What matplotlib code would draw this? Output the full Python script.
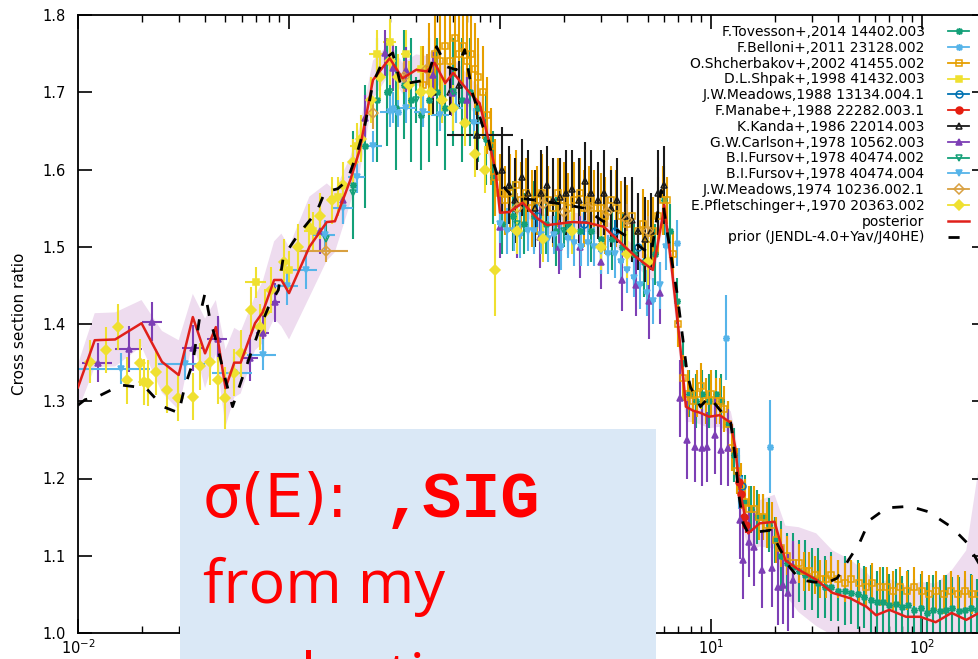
import matplotlib
matplotlib.use("Agg")
import matplotlib.pyplot as plt
from matplotlib.lines import Line2D
from matplotlib.patches import Rectangle
from matplotlib.ticker import FixedLocator, FormatStrFormatter, NullLocator

plt.rcParams.update({
    "font.family": "DejaVu Sans",
    "font.size": 10.5,
    "axes.linewidth": 1.3,
})

# ---- evaluation curves ------------------------------------------------------
post_e = [0.010, 0.012, 0.015, 0.020, 0.025, 0.030, 0.035, 0.040, 0.045, 0.050,
          0.055, 0.059, 0.069, 0.075, 0.085, 0.092, 0.100, 0.125, 0.151, 0.165,
          0.195, 0.216, 0.250, 0.300, 0.345, 0.400, 0.450, 0.490, 0.550, 0.600,
          0.720, 0.800, 0.890, 0.950, 1.00, 1.11, 1.28, 1.50, 1.67, 2.20,
          2.60, 3.10, 3.60, 4.40, 5.30, 5.60, 5.90, 6.00, 6.50, 7.10,
          7.60, 8.20, 8.90, 9.80, 11.0, 12.4, 13.0, 13.7, 15.0, 17.0,
          20.0, 22.5, 26.0, 31.5, 37.6, 45.6, 54.5, 60.5, 70.0, 84.0,
          98.0, 116, 138, 162, 186, 200]
post_y = [1.318, 1.379, 1.380, 1.401, 1.351, 1.334, 1.409, 1.362, 1.396, 1.317,
          1.350, 1.350, 1.401, 1.415, 1.457, 1.457, 1.440, 1.500, 1.532, 1.533,
          1.586, 1.625, 1.716, 1.744, 1.718, 1.729, 1.727, 1.738, 1.712, 1.725,
          1.699, 1.686, 1.634, 1.600, 1.544, 1.545, 1.557, 1.537, 1.528, 1.532,
          1.531, 1.526, 1.509, 1.487, 1.470, 1.505, 1.539, 1.554, 1.474, 1.379,
          1.293, 1.288, 1.285, 1.280, 1.282, 1.272, 1.241, 1.185, 1.129, 1.142,
          1.144, 1.094, 1.082, 1.069, 1.052, 1.045, 1.034, 1.023, 1.030, 1.021,
          1.021, 1.014, 1.026, 1.017, 1.026, 1.022]
post_unc = [0.030, 0.035, 0.035, 0.030, 0.040, 0.045, 0.030, 0.045, 0.035, 0.050,
            0.045, 0.040, 0.035, 0.040, 0.050, 0.060, 0.060, 0.065, 0.050, 0.040,
            0.030, 0.030, 0.025, 0.020, 0.020, 0.020, 0.020, 0.020, 0.020, 0.020,
            0.020, 0.020, 0.020, 0.020, 0.015, 0.012, 0.012, 0.012, 0.012, 0.012,
            0.012, 0.012, 0.012, 0.012, 0.015, 0.015, 0.015, 0.015, 0.020, 0.025,
            0.020, 0.015, 0.015, 0.015, 0.015, 0.015, 0.020, 0.025, 0.025, 0.030,
            0.035, 0.045, 0.055, 0.060, 0.055, 0.050, 0.045, 0.040, 0.040, 0.040,
            0.045, 0.050, 0.055, 0.090, 0.190, 0.250]

prior_e = [0.0100, 0.0108, 0.0124, 0.0160, 0.0210, 0.0253, 0.0300, 0.0320, 0.0350, 0.0380,
           0.0400, 0.0420, 0.0450, 0.0500, 0.0540, 0.0590, 0.0660, 0.0730, 0.0800, 0.0890,
           0.0940, 0.110, 0.135, 0.148, 0.170, 0.189, 0.210, 0.228, 0.250, 0.280,
           0.310, 0.340, 0.370, 0.450, 0.500, 0.560, 0.620, 0.680, 0.740, 0.830,
           0.870, 0.930, 1.00, 1.15, 1.50, 2.00, 2.50, 3.00, 4.00, 4.60,
           5.20, 5.80, 6.10, 6.90, 7.70, 8.00, 8.90, 9.80, 11.0, 12.4,
           13.0, 13.5, 14.2, 15.0, 16.7, 19.1, 21.0, 23.6, 26.4, 30.6,
           35.4, 39.6, 44.0, 50.6, 56.4, 68.0, 87.5, 107, 138, 163,
           186, 200]
prior_y = [1.295, 1.302, 1.306, 1.321, 1.317, 1.293, 1.285, 1.318, 1.350, 1.414,
           1.440, 1.409, 1.379, 1.328, 1.293, 1.324, 1.362, 1.396, 1.422, 1.444,
           1.487, 1.515, 1.545, 1.571, 1.575, 1.586, 1.621, 1.655, 1.712, 1.742,
           1.751, 1.707, 1.712, 1.716, 1.759, 1.733, 1.729, 1.755, 1.699, 1.655,
           1.647, 1.608, 1.583, 1.564, 1.560, 1.555, 1.550, 1.535, 1.513, 1.500,
           1.490, 1.573, 1.531, 1.440, 1.337, 1.318, 1.293, 1.306, 1.289, 1.272,
           1.228, 1.181, 1.142, 1.129, 1.131, 1.133, 1.111, 1.085, 1.069, 1.066,
           1.065, 1.071, 1.091, 1.117, 1.146, 1.162, 1.164, 1.157, 1.137, 1.117,
           1.090, 1.075]

# ---- experimental data (EXFOR) ----------------------------------------------
tov_e = [0.20, 0.23, 0.26, 0.29, 0.32, 0.35, 0.38, 0.42, 0.46, 0.50, 0.55, 0.60, 0.66, 0.72, 0.79, 0.86, 0.93,
         1.02, 1.15, 1.30, 1.45, 1.65, 1.85, 2.10, 2.40, 2.70, 3.00, 3.40, 3.80, 4.30, 4.80, 5.40, 6.00,
         6.40, 6.90, 7.40, 7.90, 8.50, 9.10, 9.80, 10.5, 11.2, 12.0, 12.8, 13.6, 14.5, 15.5, 16.5, 17.6, 18.8, 20.0,
         21.5, 23.0, 24.5, 26.0, 28.0, 30.0, 32.0, 34.5, 37.0, 40.0, 43.0, 46.0, 49.5, 53.0, 57.0, 61.0, 65.5,
         70.0, 75.0, 80.5, 86.0, 92.0, 99.0, 106, 113, 121, 130, 139, 149, 160, 171, 183, 195]
tov_y = [1.58, 1.63, 1.69, 1.70, 1.68, 1.71, 1.69, 1.67, 1.69, 1.70, 1.68, 1.70, 1.69, 1.70, 1.68, 1.64, 1.59,
         1.53, 1.54, 1.53, 1.54, 1.53, 1.52, 1.53, 1.52, 1.52, 1.51, 1.51, 1.50, 1.49, 1.48, 1.49, 1.56,
         1.52, 1.43, 1.35, 1.31, 1.30, 1.31, 1.30, 1.31, 1.30, 1.27, 1.23, 1.20, 1.17, 1.16, 1.15, 1.15, 1.14, 1.12,
         1.10, 1.09, 1.085, 1.08, 1.075, 1.07, 1.065, 1.06, 1.06, 1.055, 1.055, 1.052, 1.05, 1.047, 1.043, 1.04, 1.04,
         1.036, 1.038, 1.034, 1.036, 1.03, 1.032, 1.026, 1.03, 1.028, 1.03, 1.032, 1.028, 1.03, 1.032, 1.03, 1.032]
tov_dy = [0.07, 0.08, 0.08, 0.07, 0.08, 0.07, 0.08, 0.07, 0.08, 0.07, 0.08, 0.07, 0.08, 0.07, 0.07, 0.06, 0.06,
          0.04, 0.045, 0.04, 0.045, 0.04, 0.045, 0.04, 0.045, 0.04, 0.045, 0.04, 0.045, 0.04, 0.045, 0.04, 0.045,
          0.035, 0.03, 0.035, 0.03, 0.035, 0.03, 0.035, 0.03, 0.035, 0.03, 0.035, 0.03, 0.035, 0.03, 0.035, 0.03, 0.035, 0.03,
          0.045, 0.04, 0.045, 0.04, 0.045, 0.04, 0.045, 0.04, 0.045, 0.04, 0.045, 0.04, 0.045, 0.04, 0.045, 0.04, 0.045,
          0.04, 0.045, 0.04, 0.045, 0.04, 0.045, 0.04, 0.045, 0.04, 0.045, 0.04, 0.045, 0.04, 0.045, 0.04, 0.045]

bel_e = [0.31, 0.33, 6.9, 11.8, 13.5, 19.1]
bel_y = [1.68, 1.675, 1.505, 1.382, 1.20, 1.241]
bel_dy = [0.02, 0.02, 0.03, 0.055, 0.04, 0.06]

shch_e = [0.43, 0.46, 0.49, 0.52, 0.55, 0.58, 0.61, 0.64, 0.67, 0.70, 0.73, 0.76, 0.79, 0.83, 0.87, 0.91, 0.95,
          1.00, 1.06, 1.12, 1.19, 1.26, 1.33, 1.41, 1.50, 1.58, 1.68, 1.78, 1.88, 2.00, 2.10, 2.25, 2.40,
          2.50, 2.65, 2.80, 3.00, 3.15, 3.35, 3.55, 3.75, 4.00, 4.20, 4.50, 4.75, 5.00, 5.30, 5.60, 5.90,
          6.20, 6.60, 7.00, 7.40, 7.80, 8.20, 8.60, 9.00, 9.50, 10.0, 10.5, 11.0, 11.5, 12.0, 12.6, 13.2,
          13.8, 14.5, 15.2, 16.0, 16.8, 17.6, 18.5, 19.4, 20.4,
          21.5, 23.0, 24.5, 26.0, 27.5, 29.0, 31.0, 33.0, 35.0, 37.0, 40.0, 43.0, 46.0, 50.0, 54.0, 58.0,
          63.0, 68.0, 73.0, 79.0, 85.0, 92.0, 100, 108, 117, 127, 137, 148, 160, 173, 187]
shch_y = [1.71, 1.73, 1.75, 1.74, 1.76, 1.74, 1.77, 1.75, 1.76, 1.74, 1.75, 1.73, 1.72, 1.70, 1.67, 1.63, 1.59,
          1.57, 1.56, 1.57, 1.58, 1.56, 1.57, 1.55, 1.56, 1.57, 1.56, 1.55, 1.57, 1.56, 1.55, 1.56, 1.57,
          1.55, 1.56, 1.55, 1.55, 1.54, 1.56, 1.55, 1.54, 1.53, 1.54, 1.52, 1.53, 1.51, 1.52, 1.54, 1.56,
          1.56, 1.49, 1.40, 1.33, 1.31, 1.30, 1.31, 1.32, 1.30, 1.31, 1.30, 1.30, 1.29, 1.27, 1.24, 1.21,
          1.19, 1.17, 1.16, 1.16, 1.15, 1.15, 1.14, 1.14, 1.12,
          1.11, 1.10, 1.09, 1.09, 1.08, 1.08, 1.075, 1.07, 1.07, 1.075, 1.07, 1.065, 1.07, 1.065, 1.06, 1.065,
          1.06, 1.06, 1.055, 1.06, 1.055, 1.06, 1.055, 1.05, 1.055, 1.05, 1.055, 1.05, 1.055, 1.05, 1.05]
shch_dy = [0.05, 0.06, 0.05, 0.06, 0.05, 0.06, 0.05, 0.06, 0.05, 0.06, 0.05, 0.06, 0.05, 0.06, 0.05, 0.05, 0.05,
           0.05, 0.045, 0.05, 0.045, 0.05, 0.045, 0.05, 0.045, 0.05, 0.045, 0.05, 0.045, 0.05, 0.045, 0.05, 0.045,
           0.05, 0.045, 0.05, 0.045, 0.05, 0.045, 0.05, 0.045, 0.05, 0.045, 0.05, 0.045, 0.05, 0.045, 0.05, 0.045,
           0.03, 0.03, 0.03, 0.03, 0.03, 0.03, 0.03, 0.03, 0.03, 0.03, 0.03, 0.03, 0.03, 0.03, 0.03, 0.03,
           0.03, 0.03, 0.03, 0.03, 0.03, 0.03, 0.03, 0.03, 0.03,
           0.025, 0.025, 0.025, 0.025, 0.025, 0.025, 0.025, 0.025, 0.025, 0.025, 0.025, 0.025, 0.025, 0.025, 0.025, 0.025,
           0.025, 0.025, 0.025, 0.025, 0.025, 0.025, 0.025, 0.025, 0.025, 0.025, 0.025, 0.025, 0.025, 0.025, 0.025]

shp_e = [0.07, 0.10, 0.13, 0.17, 0.21, 0.26, 0.30, 0.36, 0.42]
shp_y = [1.454, 1.47, 1.52, 1.565, 1.63, 1.75, 1.765, 1.75, 1.73]
shp_dy = [0.02, 0.025, 0.025, 0.025, 0.03, 0.03, 0.03, 0.03, 0.03]
shp_dx = [0.008, 0.01, 0.012, 0.015, 0.015, 0.02, 0.02, 0.02, 0.02]

m88_e = [1.5, 2.5, 3.5, 4.5, 14.0]
m88_y = [1.54, 1.53, 1.52, 1.50, 1.19]
m88_dy = [0.015, 0.015, 0.015, 0.015, 0.015]

man_e = [13.6, 13.9, 14.3, 14.6]
man_y = [1.195, 1.18, 1.15, 1.14]
man_dy = [0.01, 0.01, 0.01, 0.01]

kanda_e = [0.48, 0.53, 0.58, 0.64, 0.78, 1.02, 1.10, 1.18, 1.27, 1.36, 1.46, 1.56, 1.67, 1.79, 1.92,
           2.06, 2.20, 2.36, 2.53, 2.70, 2.90, 3.10, 3.35, 3.60, 3.90, 4.20, 4.50, 4.85, 5.20, 5.60, 6.00]
kanda_y = [1.70, 1.69, 1.70, 1.71, 1.645, 1.60, 1.58, 1.56, 1.59, 1.57, 1.55, 1.57, 1.58, 1.56, 1.565,
           1.57, 1.575, 1.56, 1.585, 1.57, 1.56, 1.57, 1.55, 1.56, 1.54, 1.535, 1.52, 1.51, 1.52, 1.57, 1.58]
kanda_dy = [0.03, 0.03, 0.03, 0.03, 0.045, 0.055, 0.05, 0.055, 0.05, 0.055, 0.05, 0.055, 0.05, 0.055, 0.05,
            0.055, 0.05, 0.055, 0.05, 0.055, 0.05, 0.055, 0.05, 0.055, 0.05, 0.055, 0.05, 0.055, 0.05, 0.055, 0.05]
kanda_dx_lo = [0, 0, 0, 0, 0.22, 0, 0, 0, 0, 0, 0, 0, 0, 0, 0,
               0, 0, 0, 0, 0, 0, 0, 0, 0, 0, 0, 0, 0, 0, 0, 0]
kanda_dx_hi = [0, 0, 0, 0, 0.37, 0, 0, 0, 0, 0, 0, 0, 0, 0, 0,
               0, 0, 0, 0, 0, 0, 0, 0, 0, 0, 0, 0, 0, 0, 0, 0]

carl_e = [0.0125, 0.0175, 0.0225, 0.035, 0.046, 0.065, 0.075, 0.086, 0.14, 0.18, 0.23, 0.285, 0.31, 0.36, 0.48, 0.59, 0.70,
          1.00, 1.20, 1.54, 1.90, 2.40, 3.00, 3.80, 4.40, 5.10, 5.70,
          7.10, 7.70, 8.40, 9.10, 9.60, 10.4, 11.2, 12.0, 13.7, 14.2, 15.2, 16.0, 17.4, 19.4, 20.8, 22.0, 23.2, 24.5]
carl_y = [1.350, 1.368, 1.403, 1.369, 1.380, 1.356, 1.388, 1.428, 1.52, 1.56, 1.667, 1.751, 1.731, 1.729, 1.722, 1.699, 1.69,
          1.526, 1.52, 1.513, 1.50, 1.50, 1.48, 1.457, 1.45, 1.43, 1.44,
          1.304, 1.25, 1.241, 1.24, 1.241, 1.256, 1.237, 1.24, 1.146, 1.094, 1.118, 1.111, 1.082, 1.084, 1.06, 1.062, 1.052, 1.069]
carl_dy = [0.025, 0.03, 0.025, 0.03, 0.03, 0.03, 0.025, 0.025, 0.03, 0.03, 0.03, 0.03, 0.03, 0.03, 0.03, 0.03, 0.03,
           0.04, 0.035, 0.04, 0.035, 0.04, 0.035, 0.04, 0.04, 0.05, 0.04,
           0.05, 0.05, 0.045, 0.05, 0.045, 0.05, 0.045, 0.05, 0.05, 0.05, 0.045, 0.05, 0.05, 0.05, 0.05, 0.05, 0.05, 0.05]
carl_dx = [0.002, 0.0025, 0.0025, 0.004, 0.005, 0.006, 0.005, 0.005, 0, 0, 0, 0, 0, 0, 0, 0, 0,
           0, 0, 0, 0, 0, 0, 0, 0, 0, 0,
           0, 0, 0, 0, 0, 0, 0, 0, 0, 0, 0, 0, 0, 0, 0, 0, 0, 0]

f2_e = [0.15, 0.20, 0.30, 0.40, 0.60, 1.2, 2.0, 3.0]
f2_y = [1.51, 1.57, 1.70, 1.69, 1.70, 1.53, 1.52, 1.50]
f2_dy = [0.02, 0.02, 0.03, 0.03, 0.03, 0.02, 0.02, 0.02]

f4_e = [0.016, 0.032, 0.055, 0.075, 0.098, 0.12, 0.148, 0.18, 0.21, 0.25, 0.30, 0.36, 0.43, 0.52, 0.62, 0.75,
        1.00, 1.08, 1.16, 1.25, 1.35, 1.45, 1.56, 1.68, 1.80, 1.95, 2.10, 2.25, 2.42,
        2.60, 2.80, 3.00, 3.25, 3.50, 3.75, 4.00, 4.30, 4.60, 4.95, 5.30, 5.70, 6.10]
f4_y = [1.342, 1.348, 1.337, 1.360, 1.449, 1.47, 1.515, 1.55, 1.59, 1.63, 1.675, 1.68, 1.675, 1.67, 1.68, 1.66,
        1.53, 1.52, 1.52, 1.515, 1.52, 1.52, 1.515, 1.51, 1.515, 1.50, 1.51, 1.505, 1.50,
        1.505, 1.50, 1.495, 1.49, 1.49, 1.48, 1.47, 1.46, 1.45, 1.44, 1.43, 1.45, 1.50]
f4_dy = [0.02, 0.02, 0.02, 0.02, 0.025, 0.025, 0.02, 0.02, 0.02, 0.02, 0.02, 0.02, 0.02, 0.02, 0.02, 0.02,
         0.025, 0.03, 0.025, 0.03, 0.025, 0.03, 0.025, 0.03, 0.025, 0.03, 0.025, 0.03, 0.025,
         0.03, 0.025, 0.03, 0.025, 0.03, 0.025, 0.03, 0.025, 0.03, 0.03, 0.03, 0.03, 0.03]
f4_dx = [0.006, 0.008, 0.012, 0.012, 0.012, 0.015, 0.018, 0.02, 0.02, 0.025, 0.03, 0.04, 0.04, 0.05, 0.05, 0.06,
         0.03, 0.03, 0.035, 0.04, 0.04, 0.045, 0.05, 0.05, 0.055, 0.06, 0.065, 0.07, 0.07,
         0.08, 0.085, 0.09, 0.1, 0.1, 0.11, 0.12, 0.13, 0.14, 0.15, 0.16, 0.17, 0.18]

m74_e = [0.15, 0.25, 0.35, 0.45, 1.2, 1.6, 2.0, 2.6, 3.2, 4.0, 5.0]
m74_y = [1.495, 1.673, 1.72, 1.73, 1.55, 1.555, 1.545, 1.55, 1.545, 1.535, 1.52]
m74_dy = [0.015, 0.02, 0.02, 0.02, 0.02, 0.02, 0.02, 0.02, 0.02, 0.02, 0.02]
m74_dx = [0.04, 0, 0, 0, 0, 0, 0, 0, 0, 0, 0]

pf_e = [0.0114, 0.0136, 0.0155, 0.017, 0.0197, 0.0205, 0.0214, 0.0235, 0.0264, 0.0298, 0.035,
        0.038, 0.042, 0.046, 0.050, 0.055, 0.059, 0.066, 0.073, 0.077, 0.082,
        0.095, 0.11, 0.125, 0.14, 0.16, 0.18, 0.20, 0.22, 0.245, 0.27, 0.30,
        0.33, 0.37, 0.42, 0.47, 0.53, 0.60, 0.68, 0.76, 0.85, 0.95,
        1.2, 1.6, 2.2, 3.0, 4.0, 5.0]
pf_y = [1.351, 1.366, 1.396, 1.327, 1.350, 1.325, 1.324, 1.338, 1.315, 1.304, 1.306,
        1.345, 1.351, 1.327, 1.304, 1.337, 1.362, 1.418, 1.396, 1.415, 1.444,
        1.48, 1.50, 1.525, 1.54, 1.56, 1.58, 1.61, 1.64, 1.69, 1.72, 1.74,
        1.72, 1.71, 1.70, 1.70, 1.69, 1.68, 1.66, 1.62, 1.60, 1.47,
        1.52, 1.51, 1.52, 1.50, 1.49, 1.48]
pf_dy = [0.028, 0.03, 0.03, 0.03, 0.03, 0.03, 0.03, 0.03, 0.03, 0.03, 0.03,
         0.03, 0.03, 0.03, 0.04, 0.03, 0.03, 0.03, 0.03, 0.03, 0.03,
         0.03, 0.03, 0.03, 0.03, 0.03, 0.03, 0.03, 0.03, 0.03, 0.03, 0.03,
         0.03, 0.03, 0.03, 0.03, 0.03, 0.03, 0.03, 0.03, 0.03, 0.06,
         0.03, 0.03, 0.03, 0.03, 0.03, 0.03]

GREEN, LBLUE, ORANGE, YELLOW = "#13a078", "#56b4e9", "#e69f00", "#efe030"
BLUE, RED, BLACK, PURPLE = "#0072b2", "#e51e10", "#1a1a1a", "#7d3fb5"
ASTER = (8, 2, 0)

series = [
    ("F.Tovesson+,2014 14402.003", tov_e, tov_y, tov_dy, None, GREEN, ASTER, True),
    ("F.Belloni+,2011 23128.002", bel_e, bel_y, bel_dy, None, LBLUE, ASTER, True),
    ("O.Shcherbakov+,2002 41455.002", shch_e, shch_y, shch_dy, None, ORANGE, "s", False),
    ("D.L.Shpak+,1998 41432.003", shp_e, shp_y, shp_dy, shp_dx, YELLOW, "s", True),
    ("J.W.Meadows,1988 13134.004.1", m88_e, m88_y, m88_dy, None, BLUE, "o", False),
    ("F.Manabe+,1988 22282.003.1", man_e, man_y, man_dy, None, RED, "o", True),
    ("K.Kanda+,1986 22014.003", kanda_e, kanda_y, kanda_dy, [kanda_dx_lo, kanda_dx_hi], BLACK, "^", False),
    ("G.W.Carlson+,1978 10562.003", carl_e, carl_y, carl_dy, carl_dx, PURPLE, "^", True),
    ("B.I.Fursov+,1978 40474.002", f2_e, f2_y, f2_dy, None, GREEN, "v", False),
    ("B.I.Fursov+,1978 40474.004", f4_e, f4_y, f4_dy, f4_dx, LBLUE, "v", True),
    ("J.W.Meadows,1974 10236.002.1", m74_e, m74_y, m74_dy, m74_dx, "#d9a040", "D", False),
    ("E.Pfletschinger+,1970 20363.002", pf_e, pf_y, pf_dy, None, YELLOW, "D", True),
]

fig = plt.figure(figsize=(9.79, 6.59), dpi=100)
ax = fig.add_axes([78 / 979, 26 / 659, 907.6 / 979, 618 / 659])

lo = [y - u for y, u in zip(post_y, post_unc)]
hi = [y + u for y, u in zip(post_y, post_unc)]
ax.fill_between(post_e, lo, hi, color="#eedcef", lw=0, zorder=1)

handles, labels = [], []
for label, e, y, dy, dx, color, marker, filled in series:
    face = color if filled else "none"
    ax.errorbar(e, y, yerr=dy, xerr=dx, marker=marker, ls="none", color=color,
                ms=5, mfc=face, mec=color, mew=1.1, elinewidth=1.5, capsize=0, zorder=2)
    handles.append(Line2D([], [], color=color, marker=marker, mfc=face, mec=color,
                          ms=5, mew=1.1, lw=1.3))
    labels.append(label)

ax.plot(post_e, post_y, color="#e0201a", lw=1.8, zorder=5)
ax.plot(prior_e, prior_y, color="black", lw=2.0, dashes=(4, 5), zorder=6)
handles.append(Line2D([], [], color="#e0201a", lw=1.8))
labels.append("posterior")
handles.append(Line2D([], [], color="black", lw=2.0, dashes=(4, 5)))
labels.append("prior (JENDL-4.0+Yav/J40HE)")

ax.set_xscale("log")
ax.set_xlim(0.01, 200)
ax.set_ylim(1.0, 1.8)
ax.yaxis.set_major_locator(FixedLocator([1.0, 1.1, 1.2, 1.3, 1.4, 1.5, 1.6, 1.7, 1.8]))
ax.yaxis.set_major_formatter(FormatStrFormatter("%.1f"))
ax.yaxis.set_minor_locator(NullLocator())
ax.tick_params(which="both", direction="in", top=True, right=True)
ax.tick_params(which="major", length=10, width=1.2)
ax.tick_params(which="minor", length=5, width=1.0)
ax.tick_params(axis="y", pad=9)
ax.tick_params(axis="x", pad=4)
ax.set_ylabel("Cross section ratio", fontsize=11)
ax.yaxis.set_label_coords(-0.056, 0.5)

leg = ax.legend(handles, labels, loc="upper right",
                bbox_to_anchor=(969 / 979, 1 - 25 / 659), bbox_transform=fig.transFigure,
                frameon=False, markerfirst=False, fontsize=10, handlelength=1.5,
                handletextpad=1.7, labelspacing=0.13, borderpad=0, borderaxespad=0)
leg.set_zorder(8)
for col in leg._legend_handle_box.get_children():
    col.align = "right"

# slide overlay box
fig.add_artist(Rectangle((180 / 979, 0), 476 / 979, 230 / 659, transform=fig.transFigure,
                         facecolor="#dae8f6", edgecolor="none", zorder=10))
txt = dict(color="#ff0000", va="baseline", ha="left", zorder=11)
fig.text(203 / 979, (659 - 517) / 659, "σ(E):", family="DejaVu Sans", fontsize=44, **txt)
fig.text(384 / 979, (659 - 517) / 659, ",SIG", family="Liberation Mono", weight="bold",
         fontsize=47, **txt)
fig.text(203 / 979, (659 - 603) / 659, "from my", family="Open Sans", fontsize=44, **txt)
fig.text(203 / 979, (659 - 696) / 659, "evaluation", family="Open Sans", fontsize=44, **txt)

fig.savefig("out.png", dpi=100)
